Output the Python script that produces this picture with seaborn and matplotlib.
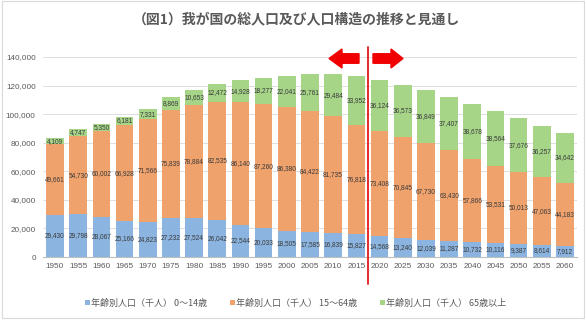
import matplotlib
matplotlib.use("Agg")
import matplotlib.pyplot as plt
import matplotlib.patches as mpatches
from matplotlib.lines import Line2D
import numpy as np
import pandas as pd
import seaborn as sns

years = [1950, 1955, 1960, 1965, 1970, 1975, 1980, 1985, 1990, 1995, 2000, 2005,
         2010, 2015, 2020, 2025, 2030, 2035, 2040, 2045, 2050, 2055, 2060]
age_0_14 = [29430, 29798, 28067, 25166, 24823, 27232, 27524, 26042, 22544, 20033, 18505, 17585,
            16839, 15827, 14568, 13240, 12039, 11287, 10732, 10116, 9387, 8614, 7912]
age_15_64 = [49661, 54730, 60002, 66928, 71566, 75839, 78884, 82535, 86140, 87260, 86380, 84422,
             81735, 76818, 73408, 70845, 67730, 63430, 57866, 53531, 50013, 47063, 44183]
age_65 = [4109, 4747, 5350, 6181, 7331, 8869, 10653, 12472, 14928, 18277, 22041, 25761,
          29484, 33952, 36124, 36573, 36849, 37407, 38678, 38564, 37676, 36257, 34642]
series_names = ["年齢別人口（千人） 0～14歳", "年齢別人口（千人） 15～64歳", "年齢別人口（千人） 65歳以上"]
title = "（図1）我が国の総人口及び人口構造の推移と見通し"
y_ticks = [0, 20000, 40000, 60000, 80000, 100000, 120000, 140000]

colors = ["#8BB4E0", "#F0A26C", "#A6D588"]
txt_gray = "#595959"
CJK = ["Noto Sans CJK JP", "DejaVu Sans"]

sns.set_theme(style="white")
plt.rcParams["font.family"] = ["Liberation Sans", "DejaVu Sans"]

df = pd.DataFrame({"year": [str(y) for y in years],
                   "a": age_0_14, "b": age_15_64, "c": age_65})
df["ab"] = df["a"] + df["b"]
df["abc"] = df["ab"] + df["c"]

W, H = 587, 323
fig = plt.figure(figsize=(W / 100, H / 100), dpi=100)
ax = fig.add_axes([43.4 / W, 1 - 257 / H, (576.6 - 43.4) / W, 200 / H])

for col, c in zip(["abc", "ab", "a"], colors[::-1]):
    sns.barplot(data=df, x="year", y=col, color=c, width=0.76, linewidth=0,
                saturation=1, ax=ax, zorder=3)

ax.set_xlim(-0.5, len(years) - 0.5)
ax.set_ylim(0, 140000)
ax.set_yticks(y_ticks)
ax.set_yticklabels([f"{v:,}" for v in y_ticks])
ax.set_xlabel("")
ax.set_ylabel("")
ax.tick_params(axis="y", length=0, pad=5.5, labelsize=5.9, labelcolor=txt_gray)
ax.tick_params(axis="x", length=0, pad=4.2, labelsize=5.9, labelcolor=txt_gray)
ax.grid(axis="y", color="#D9D9D9", linewidth=0.6, zorder=0)
ax.set_axisbelow(True)
for s in ["left", "right", "top"]:
    ax.spines[s].set_visible(False)
ax.spines["bottom"].set_color("#BFBFBF")
ax.spines["bottom"].set_linewidth(0.8)

# data labels
lab_kw = dict(ha="center", va="center", fontsize=4.7, color="#3A3A3A", zorder=5)
for i in range(len(years)):
    a, b, c = age_0_14[i], age_15_64[i], age_65[i]
    ax.text(i, a / 2, f"{a:,}", **lab_kw)
    ax.text(i, a + b / 2, f"{b:,}", **lab_kw)
    ax.text(i, a + b + c / 2, f"{c:,}", **lab_kw)

# divider line between actual and projection
ax.axvline(13.5, ymin=-0.135, ymax=1.05, color="#E31A1C", linewidth=1.3,
           clip_on=False, zorder=6)

# arrows (figure pixel space)
tr = fig.dpi_scale_trans
yc = (H - 58.5) / 100
fig.patches.append(mpatches.FancyArrow(3.59, yc, -0.30, 0, width=0.095, head_width=0.19,
                                       head_length=0.13, length_includes_head=True,
                                       color="#F00000", transform=tr, figure=fig))
fig.patches.append(mpatches.FancyArrow(3.73, yc, 0.30, 0, width=0.095, head_width=0.19,
                                       head_length=0.12, length_includes_head=True,
                                       color="#F00000", transform=tr, figure=fig))

# title
fig.text(296 / W, 1 - 19 / H, title, ha="center", va="center", fontsize=10,
         fontweight="bold", color=txt_gray, family=CJK)

# legend
handles = [Line2D([0], [0], marker="s", linestyle="", markersize=3.6,
                  markerfacecolor=c, markeredgewidth=0) for c in colors]
leg = fig.legend(handles, series_names, loc="center", bbox_to_anchor=(295 / W, 1 - 303 / H),
                 ncol=3, frameon=False, handlelength=0.6, handletextpad=0.2,
                 columnspacing=2.4, prop={"family": CJK, "size": 6.5})
for t in leg.get_texts():
    t.set_color(txt_gray)

# chart-area border
fig.patches.append(mpatches.Rectangle((2 / W, 5 / H), (582 / W), (1 - 6 / H), fill=False,
                                      edgecolor="#D9D9D9", linewidth=0.8,
                                      transform=fig.transFigure, figure=fig))

fig.savefig("out.png", dpi=100, facecolor="white")
